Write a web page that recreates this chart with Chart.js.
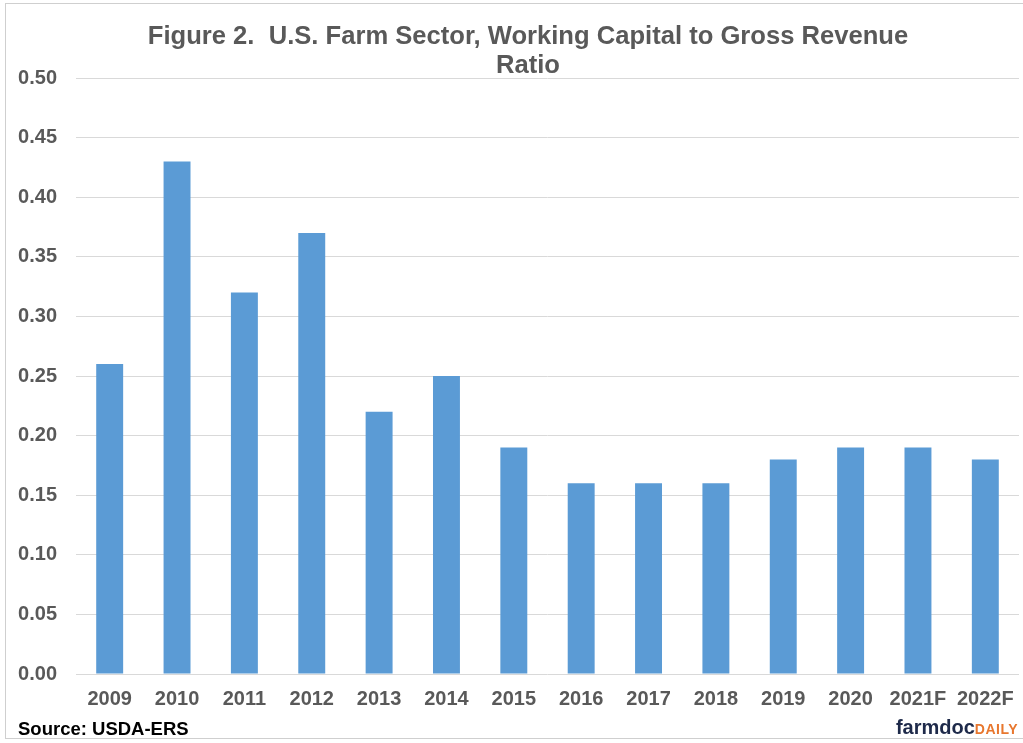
<!DOCTYPE html>
<html>
<head>
<meta charset="utf-8">
<script src="https://cdn.jsdelivr.net/npm/chart.js@4"></script>
<style>
  html, body { margin:0; padding:0; background:#fff; }
  #wrap { position:relative; width:1023px; height:743px; overflow:hidden; }
  #frame { position:absolute; left:5px; top:3px; width:1030px; height:736px; border:1px solid #cfcfcf; box-sizing:border-box; }
  #cv { position:absolute; left:0; top:0; }
  #title { position:absolute; left:128px; width:800px; top:21px; text-align:center; line-height:28px;
           font:bold 25.6px "Liberation Sans", Arial, sans-serif; color:#595959; }
  #source { position:absolute; left:18px; top:718px; font:bold 18.5px "Liberation Sans", Arial, sans-serif; color:#000; }
  #logo { position:absolute; right:5px; top:716px; font-family:"Liberation Sans", Arial, sans-serif; font-weight:bold; white-space:nowrap; }
  #logo .a { color:#1e2a4a; font-size:20px; }
  #logo .b { color:#e8772e; font-size:14px; letter-spacing:0.5px; }
</style>
</head>
<body>
<div id="wrap">
  <div id="frame"></div>
  <canvas id="cv" width="1023" height="743"></canvas>
  <div id="title"></div>
  <div id="source">Source: USDA-ERS</div>
  <div id="logo"><span class="a">farmdoc</span><span class="b">DAILY</span></div>
</div>
<script>
// chart data
const years = ["2009","2010","2011","2012","2013","2014","2015","2016","2017","2018","2019","2020","2021F","2022F"];
const ratio = [0.26, 0.43, 0.32, 0.37, 0.22, 0.25, 0.19, 0.16, 0.16, 0.16, 0.18, 0.19, 0.19, 0.18];
const titleLines = ["Figure 2.\u00a0 U.S. Farm Sector, Working Capital to Gross Revenue", "Ratio"];

const grey = '#595959';
const font = "'Liberation Sans', Arial, sans-serif";

// title sits a bit right of the canvas centre in the original, so it is a positioned div
document.getElementById('title').innerHTML = titleLines.join('<br>');

new Chart(document.getElementById('cv').getContext('2d'), {
  type: 'bar',
  data: {
    labels: years,
    datasets: [{ data: ratio, backgroundColor: '#5b9bd5', categoryPercentage: 1, barPercentage: 0.40 }]
  },
  options: {
    responsive: false,
    animation: false,
    layout: { padding: { left: 0, right: 4, top: 78, bottom: 29 } },
    plugins: {
      legend: { display: false },
      tooltip: { enabled: false },
      title: { display: false }
    },
    scales: {
      x: {
        grid: { display: false, drawTicks: false },
        border: { display: false },
        ticks: { color: grey, font: { family: font, size: 20, weight: 'bold' }, padding: 13, maxRotation: 0, autoSkip: false },
        // no extra side padding for the end labels, keeps the plot as wide as the original
        afterFit: s => { s.height = 40; s.paddingLeft = 0; s.paddingRight = 0; }
      },
      y: {
        min: 0, max: 0.5,
        grid: { color: '#d9d9d9', drawTicks: false },
        border: { display: false },
        ticks: { stepSize: 0.05, color: grey, padding: 19, font: { family: font, size: 20, weight: 'bold' },
                 callback: v => v.toFixed(2) },
        afterFit: s => { s.width = 76; }
      }
    }
  }
});
</script>
</body>
</html>
